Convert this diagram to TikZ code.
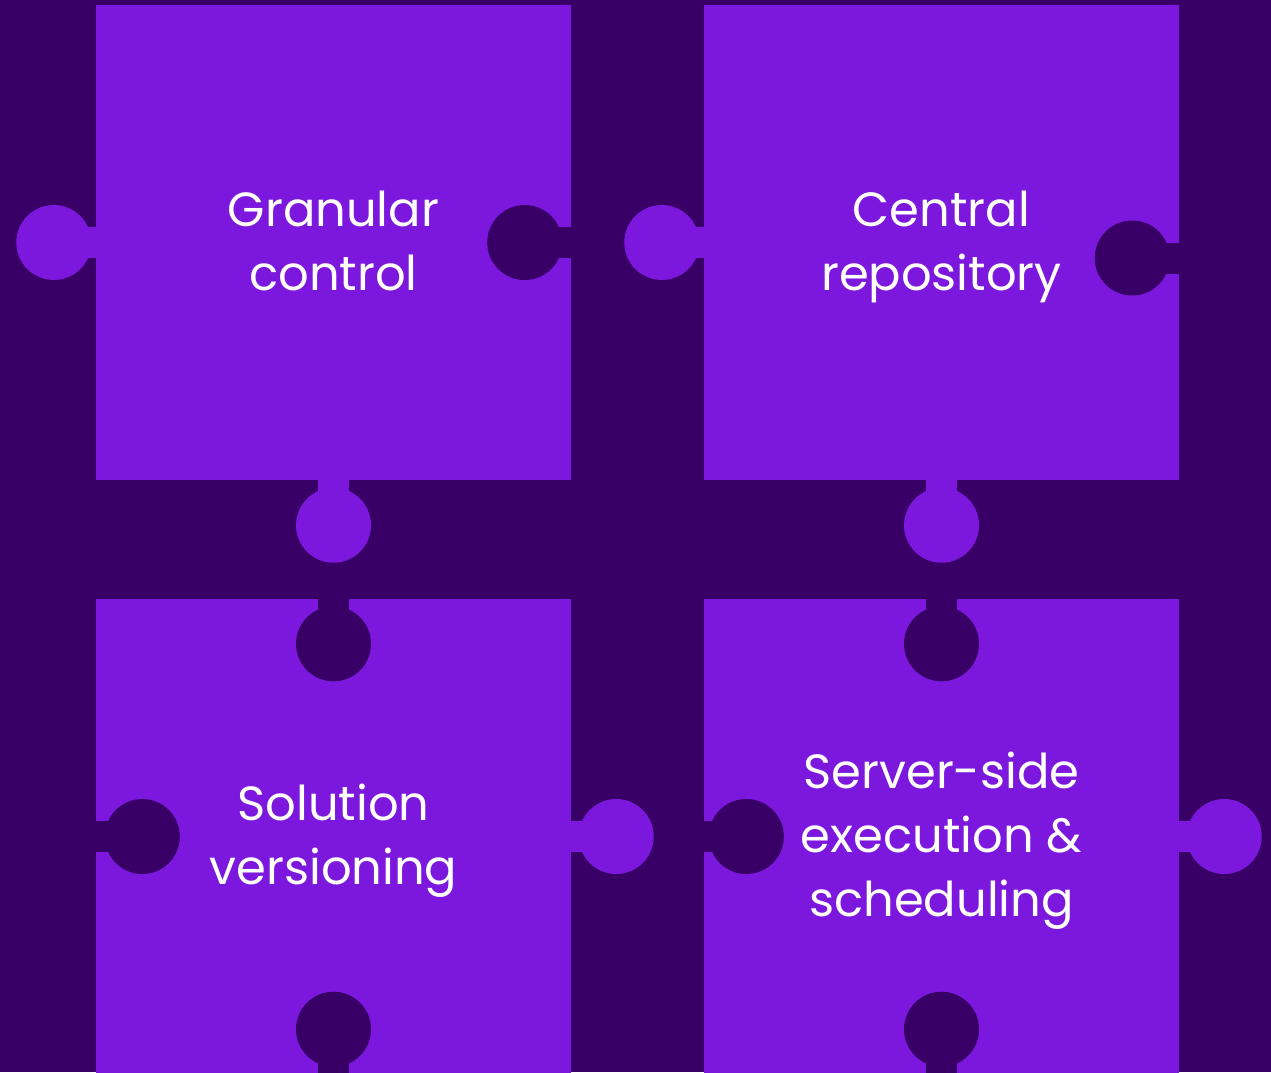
\documentclass[tikz,border=0pt]{standalone}
\usepackage{fontspec}
\setmainfont{Poppins}
\usetikzlibrary{calc}
\definecolor{deep}{HTML}{380066}
\definecolor{lite}{HTML}{7C17DD}
\pgfdeclarelayer{background}
\pgfdeclarelayer{foreground}
\pgfsetlayers{background,main,foreground}
\tikzset{
  piece/.style={fill=lite,draw=none,minimum size=475pt,inner sep=0pt},
  caption/.style={text=white,align=center,inner sep=0pt,yshift=-4pt,
    font=\fontsize{48}{64}\selectfont}
}
% one tab of a piece: [offset] anchor, direction, colour
\newcommand{\puzzletab}[4][45]{%
  \begin{scope}[shift={(#2)},rotate=#3]
    \fill[#4] (0,-15.5) rectangle (#1,15.5);
    \fill[#4] (#1,0) circle (37.5pt);
  \end{scope}}

\begin{document}
\begin{tikzpicture}[x=1pt,y=-1pt]
\clip (0,0) rectangle (1271,1072);
\begin{pgfonlayer}{background}
\fill[deep] (0,0) rectangle (1271,1072);
\end{pgfonlayer}
\node[piece] (gran) at (333.5,242.5) {};
\node[piece] (cent) at (941.5,242.5) {};
\node[piece] (sol) at (333.5,836.5) {};
\node[piece] (serv) at (941.5,836.5) {};
\node[caption] (granlbl) at (gran) {Granular\\control\vphantom{p}};
\node[caption] (centlbl) at (cent) {Central\\repository};
\node[caption] (sollbl) at (sol) {Solution\\versioning};
\node[caption] (servlbl) at (serv) {Server-side\\execution \&\\scheduling};
\begin{pgfonlayer}{foreground}
% top row
\puzzletab[42]{gran.west}{180}{lite}
\puzzletab[46.5]{gran.east}{180}{deep}
\puzzletab{gran.south}{270}{lite}
\puzzletab[42]{cent.west}{180}{lite}
\puzzletab[47]{$(cent.east)+(0,15.5)$}{180}{deep}
\puzzletab{cent.south}{270}{lite}
% bottom row
\puzzletab{sol.north}{270}{deep}
\puzzletab[46.5]{sol.west}{0}{deep}
\puzzletab{sol.east}{0}{lite}
\puzzletab{sol.south}{90}{deep}
\puzzletab{serv.north}{270}{deep}
\puzzletab[42.5]{serv.west}{0}{deep}
\puzzletab{serv.east}{0}{lite}
\puzzletab{serv.south}{90}{deep}
\end{pgfonlayer}
\end{tikzpicture}
\end{document}
